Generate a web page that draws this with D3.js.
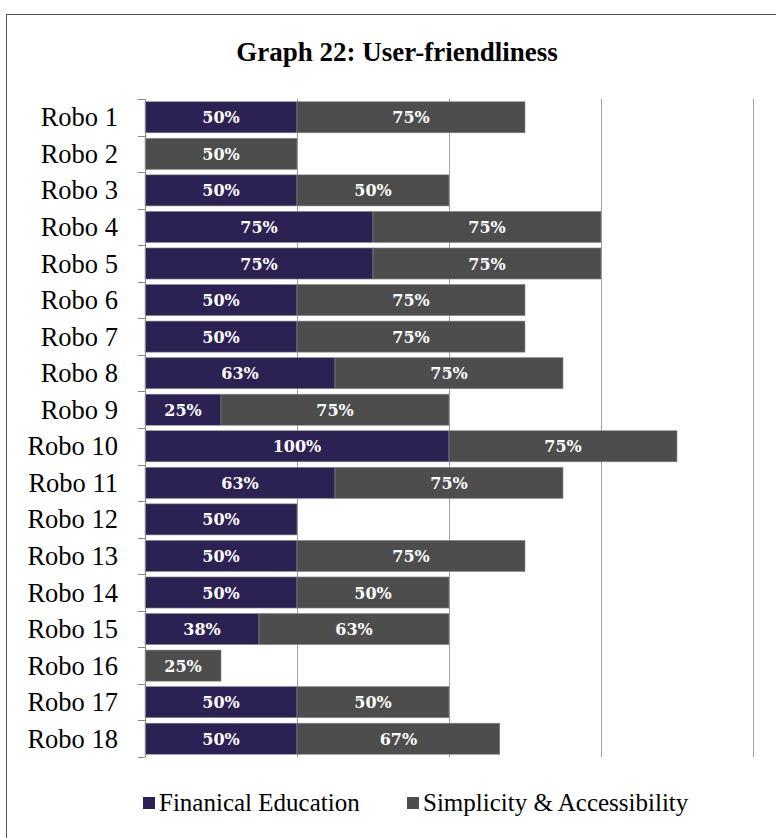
<!DOCTYPE html>
<html><head><meta charset="utf-8">
<script src="https://cdn.jsdelivr.net/npm/d3@7"></script>
<style>body{margin:0;background:#fff}svg{display:block}</style>
</head><body>
<script>
const categories = ["Robo 1","Robo 2","Robo 3","Robo 4","Robo 5","Robo 6","Robo 7","Robo 8","Robo 9","Robo 10","Robo 11","Robo 12","Robo 13","Robo 14","Robo 15","Robo 16","Robo 17","Robo 18"];
const financialEducation = [50,0,50,75,75,50,50,62.5,25,100,62.5,50,50,50,37.5,0,50,50];
const simplicityAccessibility = [75,50,50,75,75,75,75,75,75,75,75,0,75,50,62.5,25,50,66.7];
const seriesNames = ["Finanical Education","Simplicity & Accessibility"];
const seriesColors = ["#2c2153","#4d4d4d"];
const xTicks = [0,50,100,150,200];
const title = "Graph 22: User-friendliness";

const W=776,H=838;
const svg=d3.select("body").append("svg").attr("width",W).attr("height",H);
const font="'Liberation Serif', serif";

svg.append("rect").attr("x",6.5).attr("y",14.5).attr("width",W).attr("height",H).attr("fill","none").attr("stroke","#555").attr("stroke-width",1);

svg.append("text").attr("x",397).attr("y",61).attr("text-anchor","middle")
  .attr("font-family",font).attr("font-weight","bold").attr("font-size",27).attr("fill","#000").text(title);

const x=d3.scaleLinear().domain([0,200]).range([145,753]);
const y=d3.scaleBand().domain(categories).range([99,757]).paddingInner(0.15).paddingOuter(0.075);

// gridlines
svg.append("g").selectAll("line").data(xTicks.slice(1)).join("line")
  .attr("x1",d=>Math.round(x(d))+0.5).attr("x2",d=>Math.round(x(d))+0.5)
  .attr("y1",99).attr("y2",757).attr("stroke","#a0a0a0");

const rows=categories.map((c,i)=>({c,v:[financialEducation[i],simplicityAccessibility[i]]}));
const segs=[];
rows.forEach(r=>{let s=0;r.v.forEach((v,k)=>{if(v>0){segs.push({c:r.c,k,v,x0:s,x1:s+v});}s+=v;});});

svg.append("g").selectAll("rect").data(segs).join("rect")
  .attr("x",d=>x(d.x0)).attr("width",d=>x(d.x1)-x(d.x0))
  .attr("y",d=>y(d.c)).attr("height",y.bandwidth())
  .attr("fill",d=>seriesColors[d.k]).attr("stroke","#8a8a8a").attr("stroke-width",0.6);

svg.append("g").selectAll("text").data(segs).join("text")
  .attr("x",d=>(x(d.x0)+x(d.x1))/2).attr("y",d=>y(d.c)+y.bandwidth()/2+6)
  .attr("text-anchor","middle").attr("font-family","'DejaVu Serif', serif").attr("font-weight","bold")
  .attr("font-size",16).attr("fill","#fff").text(d=>Math.round(d.v)+"%");

// y axis
const yAxis=svg.append("g");
yAxis.append("line").attr("x1",145.5).attr("x2",145.5).attr("y1",99).attr("y2",757).attr("stroke","#888");
const bounds=d3.range(categories.length+1).map(i=>99+i*(757-99)/categories.length);
yAxis.selectAll("line.t").data(bounds).join("line").attr("class","t")
  .attr("x1",138).attr("x2",145).attr("y1",d=>Math.round(d)+0.5).attr("y2",d=>Math.round(d)+0.5).attr("stroke","#888");
yAxis.selectAll("text").data(categories).join("text")
  .attr("x",118).attr("y",d=>y(d)+y.bandwidth()/2+9).attr("text-anchor","end")
  .attr("font-family",font).attr("font-size",26.5).attr("fill","#000").text(d=>d);

// legend
const leg=[{x:143,n:seriesNames[0],c:seriesColors[0]},{x:407,n:seriesNames[1],c:seriesColors[1]}];
const lg=svg.append("g").selectAll("g").data(leg).join("g");
lg.append("rect").attr("x",d=>d.x).attr("y",797).attr("width",12).attr("height",12).attr("fill",d=>d.c);
lg.append("text").attr("x",d=>d.x+16).attr("y",811).attr("font-family",font).attr("font-size",25).attr("fill","#000").text(d=>d.n);
</script>
</body></html>
